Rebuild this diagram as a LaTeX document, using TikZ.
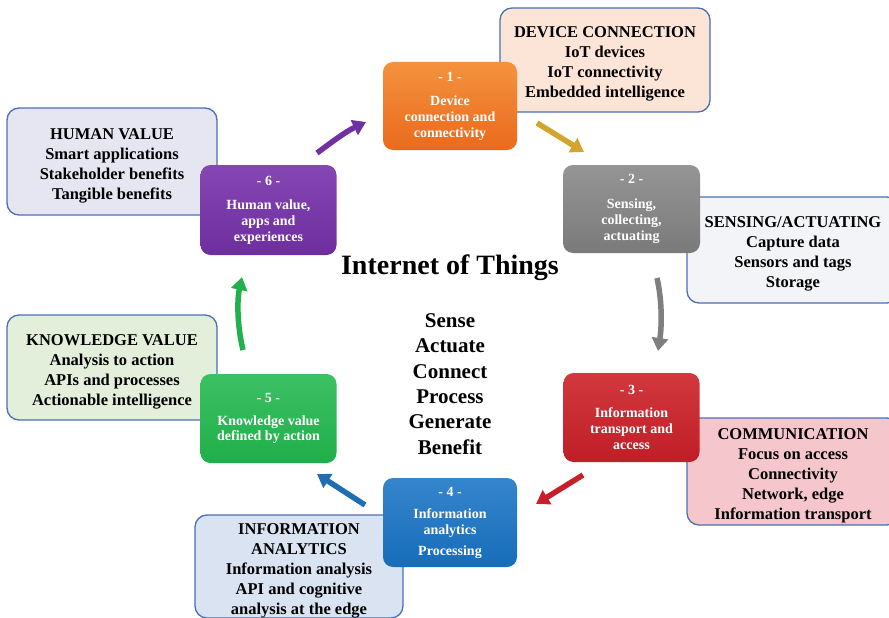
\documentclass[tikz,border=0pt]{standalone}
\usepackage{fontspec}
\setmainfont{Liberation Serif}
\usetikzlibrary{arrows.meta}
\definecolor{bordblue}{HTML}{4A6FB5}
\definecolor{fdev}{HTML}{FCE4D6}
\definecolor{fsen}{HTML}{F3F4F7}
\definecolor{fcom}{HTML}{F5C6CB}
\definecolor{fana}{HTML}{D9E3F1}
\definecolor{fkno}{HTML}{E3EFDB}
\definecolor{fhum}{HTML}{E6E5F2}
\definecolor{corange}{HTML}{EA6A1C}
\definecolor{corangeT}{HTML}{F4923E}
\definecolor{cgray}{HTML}{7A7A7A}
\definecolor{cgrayT}{HTML}{959595}
\definecolor{cred}{HTML}{C01E26}
\definecolor{credT}{HTML}{D2383F}
\definecolor{cblue}{HTML}{176DB9}
\definecolor{cblueT}{HTML}{3585CC}
\definecolor{cgreen}{HTML}{1FAF4A}
\definecolor{cgreenT}{HTML}{3CC063}
\definecolor{cpurple}{HTML}{6E2E9E}
\definecolor{cpurpleT}{HTML}{8547B4}
\definecolor{agold}{HTML}{D4A52C}
\definecolor{agray}{HTML}{7F7F7F}
\definecolor{ared}{HTML}{C8202A}
\definecolor{ablue}{HTML}{1F6DB5}
\definecolor{agreen}{HTML}{21B04B}
\definecolor{apurple}{HTML}{7030A0}
\begin{document}
\begin{tikzpicture}[x=1pt,y=-1pt,
  infobox/.style={draw=bordblue, line width=1.3pt, rounded corners=12pt,
    minimum width=#1, inner sep=0pt},
  infotext/.style={inner sep=0pt, align=center,
    font=\bfseries\fontsize{16.5}{20}\selectfont},
  stepbox/.style={rounded corners=10pt, minimum width=136pt, minimum height=89pt,
    inner sep=0pt, align=center, text=white,
    font=\bfseries\fontsize{14}{16}\selectfont},
  arr/.style={line width=5.5pt, -{Triangle[length=13pt,width=16pt]}},
]
\useasboundingbox (0,0) rectangle (889,618);
\clip (0,0) rectangle (889,618);
\fill[white] (0,0) rectangle (889,618);

% info boxes
\node[infobox=210pt, minimum height=104pt, fill=fdev] (i1) at (605,60) {};
\node[infobox=212pt, minimum height=106pt, fill=fsen] (i2) at (793,250) {};
\node[infobox=212pt, minimum height=107pt, fill=fcom] (i3) at (793,471.5) {};
\node[infobox=208pt, minimum height=103pt, fill=fana] (i4) at (299,566.5) {};
\node[infobox=210pt, minimum height=105pt, fill=fkno] (i5) at (112,367.5) {};
\node[infobox=210pt, minimum height=107pt, fill=fhum] (i6) at (112,161.5) {};

\node[infotext] (t1) at ([yshift=-4pt]i1.center)
  {DEVICE CONNECTION\\IoT devices\\IoT connectivity\\Embedded intelligence};
\node[infotext] (t2) at ([yshift=-4pt]i2.center)
  {SENSING/ACTUATING\\Capture data\\Sensors and tags\\Storage};
\node[infotext] (t3) at ([yshift=-4pt]i3.center)
  {COMMUNICATION\\Focus on access\\Connectivity\\Network, edge\\Information transport};
\node[infotext] (t4) at ([yshift=-4pt]i4.center)
  {INFORMATION\\ANALYTICS\\Information analysis\\API and cognitive\\analysis at the edge};
\node[infotext] (t5) at ([yshift=-4pt]i5.center)
  {KNOWLEDGE VALUE\\Analysis to action\\APIs and processes\\Actionable intelligence};
\node[infotext] (t6) at ([yshift=-4pt]i6.center)
  {HUMAN VALUE\\Smart applications\\Stakeholder benefits\\Tangible benefits};

% step boxes
\node[stepbox, top color=corangeT, bottom color=corange, minimum width=134pt, minimum height=88pt] (b1) at (450,106)
  {- 1 -\\[8pt]Device\\connection and\\connectivity};
\node[stepbox, top color=cgrayT, bottom color=cgray, minimum width=137pt, minimum height=88pt] (b2) at (631.5,209)
  {- 2 -\\[9pt]Sensing,\\collecting,\\actuating};
\node[stepbox, top color=credT, bottom color=cred] (b3) at (631.5,417.5)
  {- 3 -\\[7pt]Information\\transport and\\access};
\node[stepbox, top color=cblueT, bottom color=cblue, minimum width=134pt] (b4) at (450,522.5)
  {- 4 -\\[6pt]Information\\analytics\\[5pt]Processing};
\node[stepbox, top color=cgreenT, bottom color=cgreen] (b5) at (268.5,418.5)
  {- 5 -\\[7pt]Knowledge value\\[-1pt]defined by action};
\node[stepbox, top color=cpurpleT, bottom color=cpurple, minimum height=90pt] (b6) at (268.5,210)
  {- 6 -\\[8pt]Human value,\\apps and\\experiences};

% center texts
\node[font=\bfseries\fontsize{28}{32}\selectfont] (title) at (450,268) {Internet of Things};
\node[font=\bfseries\fontsize{21}{25.3}\selectfont, align=center] (list) at (450,384)
  {Sense\\Actuate\\Connect\\Process\\Generate\\Benefit};

% arrow end points
\coordinate (a1s) at (537,123); \coordinate (a1e) at (584,152);
\coordinate (a2s) at (657,278); \coordinate (a2e) at (658,351);
\coordinate (a3s) at (583,475); \coordinate (a3e) at (536,504);
\coordinate (a4s) at (365,505); \coordinate (a4e) at (317,474);
\coordinate (a5s) at (243,350); \coordinate (a5e) at (242,277);
\coordinate (a6s) at (317,153); \coordinate (a6e) at (366,122);

\draw[arr, agold] (a1s) -- (a1e);
\draw[arr, agray] (a2s) .. controls (662,300) and (662,325) .. (a2e);
\draw[arr, ared] (a3s) -- (a3e);
\draw[arr, ablue] (a4s) -- (a4e);
\draw[arr, agreen] (a5s) .. controls (237,325) and (237,300) .. (a5e);
\draw[arr, apurple] (a6s) .. controls (332,142) and (345,132) .. (a6e);
\end{tikzpicture}
\end{document}
